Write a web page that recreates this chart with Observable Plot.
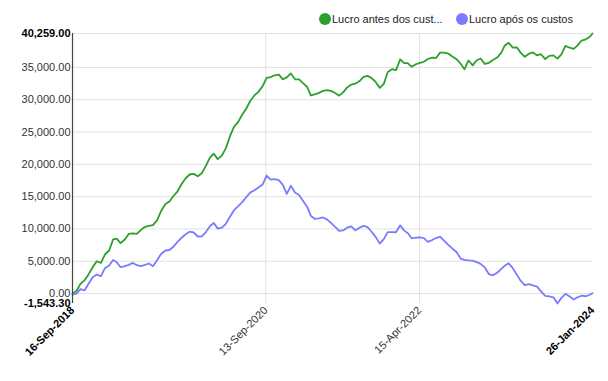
<!DOCTYPE html>
<html><head><meta charset="utf-8">
<script src="https://cdn.jsdelivr.net/npm/d3@7"></script>
<script src="https://cdn.jsdelivr.net/npm/@observablehq/plot@0.6"></script>
<style>
body{margin:0;background:#fff;font-family:"Liberation Sans",Arial,sans-serif;}
#legend{position:relative;height:28px;width:608px;font-size:11px;color:#222;}
.item{position:absolute;top:13px;display:flex;align-items:center;height:12px;white-space:nowrap;}
.dot{width:12px;height:12px;border-radius:50%;margin-right:1px;flex:none;}
</style></head><body>
<div id="legend"></div>
<div id="chart"></div>
<script>
const seriesNames = ["Lucro antes dos custos", "Lucro após os custos"];
const legendLabels = ["Lucro antes dos cust...", "Lucro após os custos"];
const colors = ["#2ca02c", "#7b7bff"];

const dates = [
 "2018-09-16","2018-10-01","2018-10-16","2018-11-01","2018-11-16","2018-12-01","2018-12-16",
 "2019-01-01","2019-01-16","2019-02-01","2019-02-16","2019-03-01","2019-03-16","2019-04-01","2019-04-16","2019-05-01","2019-05-16","2019-06-01","2019-06-16",
 "2019-07-01","2019-07-16","2019-08-01","2019-08-16","2019-09-01","2019-09-16","2019-10-01","2019-10-16","2019-11-01","2019-11-16","2019-12-01","2019-12-16",
 "2020-01-01","2020-01-16","2020-02-01","2020-02-16","2020-03-01","2020-03-16","2020-04-01","2020-04-16","2020-05-01","2020-05-16","2020-06-01","2020-06-16",
 "2020-07-01","2020-07-16","2020-08-01","2020-08-16","2020-09-01","2020-09-16","2020-10-01","2020-10-16","2020-11-01","2020-11-16","2020-12-01","2020-12-16",
 "2021-01-01","2021-01-16","2021-02-01","2021-02-16","2021-03-01","2021-03-16","2021-04-01","2021-04-16","2021-05-01","2021-05-16","2021-06-01","2021-06-16",
 "2021-07-01","2021-07-16","2021-08-01","2021-08-16","2021-09-01","2021-09-16","2021-10-01","2021-10-16","2021-11-01","2021-11-16","2021-12-01","2021-12-16",
 "2022-01-01","2022-01-16","2022-02-01","2022-02-16","2022-03-01","2022-03-16","2022-04-01","2022-04-16","2022-05-01","2022-05-16","2022-06-01","2022-06-16",
 "2022-07-01","2022-07-16","2022-08-01","2022-08-16","2022-09-01","2022-09-16","2022-10-01","2022-10-16","2022-11-01","2022-11-16","2022-12-01","2022-12-16",
 "2023-01-01","2023-01-16","2023-02-01","2023-02-16","2023-03-01","2023-03-16","2023-04-01","2023-04-16","2023-05-01","2023-05-16","2023-06-01","2023-06-16",
 "2023-07-01","2023-07-16","2023-08-01","2023-08-16","2023-09-01","2023-09-16","2023-10-01","2023-10-16","2023-11-01","2023-11-16","2023-12-01","2023-12-16",
 "2024-01-01","2024-01-16","2024-01-26"
];

const lucroAntes = [
 50,400,1500,2080,3000,4060,5000,
 4740,6040,6660,8390,8490,7800,8360,9240,9320,9230,9860,10330,
 10470,10580,11370,12820,13870,14250,15100,15790,16960,17850,18430,18530,
 18160,18610,19840,21070,21650,20810,21380,22550,24360,25800,26570,27690,
 28610,29810,30670,31220,32110,33380,33510,33790,33880,33170,33460,34080,
 33170,33150,32530,31980,30670,30830,31060,31370,31500,31370,31050,30640,
 31140,31910,32350,32490,32900,33540,33710,33350,32720,31840,32450,34310,
 34730,34580,36250,35660,35660,35100,35500,35720,35880,36310,36510,36470,
 37300,37290,37150,36710,36280,35610,34720,36080,35330,36120,36390,35540,
 35720,36160,36530,37260,38350,38830,38060,38120,37260,36650,37130,37330,
 36880,37050,36300,36790,36870,36370,37040,38350,38060,37870,38430,39170,
 39360,39750,40259.00
];

const lucroApos = [
 -150,-20,670,500,1560,2520,2940,
 2690,3930,4350,5190,4890,4070,4260,4440,4740,4400,4260,4440,
 4650,4230,5200,6160,6660,6740,7250,7960,8640,9170,9570,9450,
 8830,8860,9550,10450,10930,10050,10200,10840,11890,12900,13520,14150,
 14910,15620,16000,16410,16890,18270,17650,17700,17560,16820,15440,16680,
 15640,15270,14290,13410,12050,11570,11630,11780,11490,10950,10330,9710,
 9770,10190,10410,9790,10200,10480,10280,9570,8730,7730,8420,9510,
 9510,9490,10560,9740,9370,8550,8660,8690,8590,8010,8280,8590,
 8810,8180,7530,6980,6440,5420,5220,5140,5090,4850,4600,4060,
 2990,2820,3220,3790,4290,4680,3920,2930,1950,1290,1470,1270,
 1070,330,-360,-450,-590,-1543.30,-670,-50,-470,-930,-560,-340,
 -420,-190,50
];

const yTicks = [0, 5000, 10000, 15000, 20000, 25000, 30000, 35000];
const yExtremes = [-1543.30, 40259.00];
const xMidTicks = ["2020-09-13", "2022-04-15"];
const xEndTicks = ["2018-09-16", "2024-01-26"];

const parse = d3.utcParse("%Y-%m-%d");
const rows = [];
dates.forEach((d, i) => {
  rows.push({date: parse(d), value: lucroAntes[i], series: seriesNames[0]});
});
dates.forEach((d, i) => {
  rows.push({date: parse(d), value: lucroApos[i], series: seriesNames[1]});
});

const fmtY = v => v.toLocaleString("en-US", {minimumFractionDigits: 2, maximumFractionDigits: 2});
const fmtX = d3.utcFormat("%d-%b-%Y");
const xMid = xMidTicks.map(parse);
const xEnds = xEndTicks.map(parse);

// legend
const legend = document.getElementById("legend");
const legendLeft = [319, 456];
legendLabels.forEach((label, i) => {
  const item = document.createElement("div");
  item.className = "item";
  item.style.left = legendLeft[i] + "px";
  const dot = document.createElement("span");
  dot.className = "dot";
  dot.style.background = colors[i];
  const txt = document.createElement("span");
  txt.textContent = label;
  item.appendChild(dot);
  item.appendChild(txt);
  legend.appendChild(item);
});

const chart = Plot.plot({
  width: 608,
  height: 353,
  marginTop: 5,
  marginBottom: 78,
  marginLeft: 72,
  marginRight: 16,
  style: {fontFamily: "'Liberation Sans', Arial, sans-serif", fontSize: "11px", background: "white", overflow: "visible"},
  x: {type: "utc", domain: xEnds, label: null},
  y: {domain: yExtremes, label: null},
  color: {domain: seriesNames, range: colors},
  marks: [
    Plot.gridY([...yTicks, yExtremes[1]], {stroke: "#e2e2e2", strokeOpacity: 1}),
    Plot.gridX(xMid, {stroke: "#e2e2e2", strokeOpacity: 1}),
    Plot.line(rows, {x: "date", y: "value", z: "series", stroke: "series", strokeWidth: 1.8}),
    Plot.ruleX([xEnds[0]], {stroke: "#444", strokeWidth: 1.2}),
    Plot.axisY(yTicks, {tickFormat: fmtY, tickSize: 0, tickPadding: 2, fill: "#333", label: null}),
    Plot.axisY(yExtremes, {tickFormat: fmtY, tickSize: 0, tickPadding: 2, fill: "#000", fontWeight: "bold", label: null}),
    Plot.axisX(xMid, {tickFormat: fmtX, tickRotate: -45, tickSize: 0, tickPadding: 5, fill: "#333", label: null}),
    Plot.axisX(xEnds, {tickFormat: fmtX, tickRotate: -45, tickSize: 0, tickPadding: 5, fill: "#000", fontWeight: "bold", label: null})
  ]
});
document.getElementById("chart").appendChild(chart);
</script></body></html>
